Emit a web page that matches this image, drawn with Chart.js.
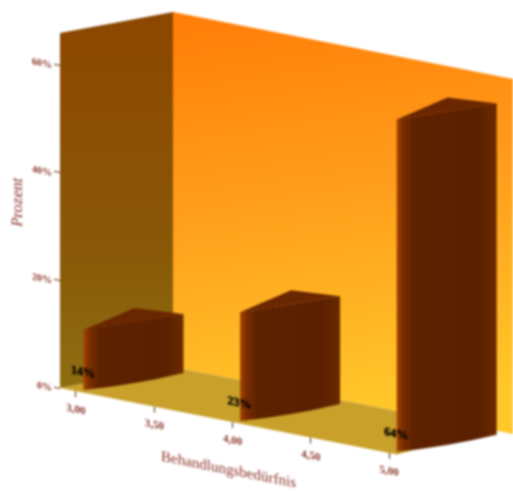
<!DOCTYPE html>
<html>
<head>
<meta charset="utf-8">
<title>Behandlungsbedarf</title>
<style>
html, body { margin: 0; padding: 0; background: #fff; }
#wrap { width: 513px; height: 494px; overflow: hidden; }
canvas { filter: blur(0.8px); }
</style>
<script src="https://cdn.jsdelivr.net/npm/chart.js@4"></script>
</head>
<body>
<div id="wrap"><canvas id="myChart" width="513" height="494"></canvas></div>
<script>
const barPositions = [3, 4, 5];
const barHeights = [11.2, 20.2, 61.8];
const barLabels = ['14%', '23%', '64%'];
const xTickValues = [3, 3.5, 4, 4.5, 5];
const yTickValues = [0, 20, 40, 60];

// the picture is a fake 3D view, so x runs downhill and depth runs uphill
const slopeX = 0.197;
const depth = { dx: 113, dy: -21 };
const textColor = '#8a3226';
const serif = '"Liberation Serif", serif';

const shearAt = (scale, x) => (x - scale.chart.chartArea.left) * slopeX;

class ShearScale extends Chart.LinearScale {
    draw(area) {
        const ctx = this.ctx;
        const left = this.chart.chartArea.left;
        ctx.save();
        ctx.transform(1, slopeX, 0, 1, 0, -slopeX * left);
        super.draw(area);
        ctx.restore();
    }
}
ShearScale.id = 'shear';
ShearScale.defaults = Chart.LinearScale.defaults;

class Bar3dController extends Chart.BarController {
    draw() {
        const meta = this.getMeta();
        const ctx = this.chart.ctx;
        const xs = meta.xScale;
        const ys = meta.yScale;
        const data = this.getDataset().data;
        const base = ys.getPixelForValue(0);
        data.forEach((v, i) => {
            const left = xs.getPixelForValue(barPositions[i]) + 7.5;
            const width = 100;
            const floor = base + shearAt(xs, left) - 2.5;
            const top = floor - (base - ys.getPixelForValue(v));

            const side = ctx.createLinearGradient(left, 0, left + width, 0);
            side.addColorStop(0, '#a84400');
            side.addColorStop(0.06, '#7a2e00');
            side.addColorStop(0.16, '#5e2200');
            side.addColorStop(0.8, '#5a2000');
            side.addColorStop(1, '#6a2a00');
            ctx.fillStyle = side;
            ctx.beginPath();
            ctx.moveTo(left, top);
            ctx.lineTo(left + width, top - 16);
            ctx.lineTo(left + width, floor - 17);
            ctx.quadraticCurveTo(left + width * 0.5, floor - 5, left, floor);
            ctx.closePath();
            ctx.fill();

            ctx.fillStyle = '#6a2600';
            ctx.beginPath();
            ctx.moveTo(left, top);
            ctx.lineTo(left + width * 0.51, top - 22);
            ctx.lineTo(left + width, top - 16);
            ctx.closePath();
            ctx.fill();
        });
    }
}
Bar3dController.id = 'bar3d';
Bar3dController.defaults = Chart.BarController.defaults;
Bar3dController.overrides = Chart.BarController.overrides;

Chart.register(ShearScale, Bar3dController);

const roomPlugin = {
    id: 'room',
    beforeDatasetsDraw(chart) {
        const ctx = chart.ctx;
        const xs = chart.scales.x;
        const ys = chart.scales.y;
        const l = xs.left;
        const r = xs.right;
        const t = ys.top;
        const b = ys.bottom;
        const rise = (r - l) * slopeX;
        const over = 6;

        // back wall
        const back = ctx.createLinearGradient(l + depth.dx, t + depth.dy, l + depth.dx + 60, b + depth.dy + 60);
        back.addColorStop(0, '#ff7d08');
        back.addColorStop(0.5, '#ffa01c');
        back.addColorStop(1, '#ffc72a');
        ctx.fillStyle = back;
        ctx.beginPath();
        ctx.moveTo(l + depth.dx, t + depth.dy);
        ctx.lineTo(r + depth.dx + over, t + depth.dy + rise + over * slopeX);
        ctx.lineTo(r + depth.dx + over, b + depth.dy + rise + over * slopeX);
        ctx.lineTo(l + depth.dx, b + depth.dy);
        ctx.closePath();
        ctx.fill();

        // left wall
        const wall = ctx.createLinearGradient(0, t, 0, b);
        wall.addColorStop(0, '#8c4800');
        wall.addColorStop(0.6, '#8a5808');
        wall.addColorStop(1, '#8e6e12');
        ctx.fillStyle = wall;
        ctx.beginPath();
        ctx.moveTo(l, t);
        ctx.lineTo(l + depth.dx, t + depth.dy);
        ctx.lineTo(l + depth.dx, b + depth.dy);
        ctx.lineTo(l, b);
        ctx.closePath();
        ctx.fill();

        // floor, its far right corner stays hidden behind the last bar
        const cut = 20;
        ctx.fillStyle = '#c8a02a';
        ctx.beginPath();
        ctx.moveTo(l, b);
        ctx.lineTo(l + depth.dx, b + depth.dy);
        ctx.lineTo(r + depth.dx - cut, b + depth.dy + rise - cut * slopeX);
        ctx.lineTo(r, b + rise);
        ctx.closePath();
        ctx.fill();
    },
    afterDatasetsDraw(chart) {
        const ctx = chart.ctx;
        const xs = chart.scales.x;
        const base = chart.scales.y.getPixelForValue(0);
        ctx.save();
        ctx.font = 'bold 12px ' + serif;
        ctx.fillStyle = '#0c0800';
        ctx.strokeStyle = '#0c0800';
        ctx.lineWidth = 0.5;
        ctx.textAlign = 'center';
        ctx.textBaseline = 'middle';
        barLabels.forEach((text, i) => {
            const x = xs.getPixelForValue(barPositions[i]) + 7;
            const y = base + shearAt(xs, x) - 20;
            ctx.save();
            ctx.translate(x, y);
            ctx.transform(1, slopeX, 0, 1, 0, 0);
            ctx.fillText(text, 0, 0);
            ctx.strokeText(text, 0, 0);
            ctx.restore();
        });
        ctx.restore();
    }
};

const ctx = document.getElementById('myChart').getContext('2d');

const myChart = new Chart(ctx, {
    type: 'bar3d',
    data: {
        labels: barLabels,
        datasets: [{ label: 'Prozent', data: barHeights, clip: false }]
    },
    options: {
        responsive: false,
        animation: false,
        layout: { padding: { left: 0, top: 33, right: 116, bottom: 48 } },
        plugins: { legend: { display: false }, tooltip: { enabled: false } },
        scales: {
            x: {
                type: 'shear',
                position: 'bottom',
                offset: false,
                min: 2.898,
                max: 5.05,
                afterBuildTicks: (s) => { s.ticks = xTickValues.map((v) => ({ value: v })); },
                afterFit: (s) => { s.height = 58; },
                grid: { display: true, offset: false, drawOnChartArea: false, drawTicks: true, tickLength: 6, color: '#5a2a10' },
                border: { display: false },
                ticks: {
                    autoSkip: false,
                    maxRotation: 0,
                    padding: 6,
                    color: textColor,
                    font: { family: serif, size: 11, weight: 'bold' },
                    callback: (v) => v.toFixed(2).replace('.', ',')
                },
                title: {
                    display: true,
                    text: 'Behandlungsbedürfnis',
                    color: textColor,
                    font: { family: serif, size: 15 },
                    padding: { top: 0, bottom: 0 }
                }
            },
            y: {
                type: 'shear',
                position: 'left',
                min: 0,
                max: 66,
                afterBuildTicks: (s) => { s.ticks = yTickValues.map((v) => ({ value: v })); },
                afterFit: (s) => { s.width = 60; },
                grid: { display: true, drawOnChartArea: false, drawTicks: true, tickLength: 6, color: '#5a2a10' },
                border: { display: false },
                ticks: {
                    padding: 2,
                    labelOffset: 2,
                    color: textColor,
                    font: { family: serif, size: 10, weight: 'bold' },
                    callback: (v) => v + '%'
                },
                title: {
                    display: true,
                    text: 'Prozent',
                    color: textColor,
                    font: { family: serif, size: 16 },
                    padding: { top: 8, bottom: 0 }
                }
            }
        }
    },
    plugins: [roomPlugin]
});
</script>
</body>
</html>
